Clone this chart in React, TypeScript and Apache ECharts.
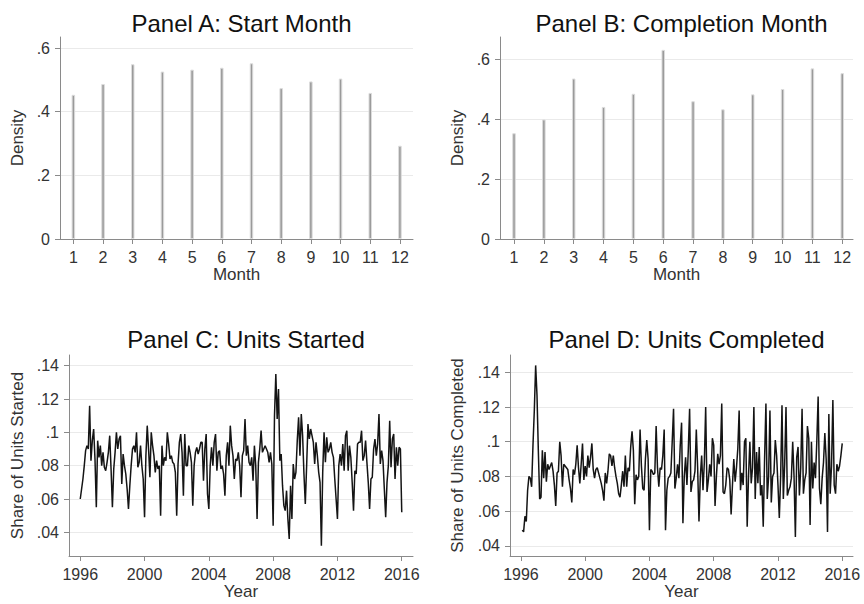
import React, { useEffect, useRef } from "react";
import * as echarts from "echarts";

// ---------- data ----------
const months = [1, 2, 3, 4, 5, 6, 7, 8, 9, 10, 11, 12];
const startDensity = [0.453, 0.487, 0.549, 0.526, 0.532, 0.538, 0.552, 0.474, 0.495, 0.504, 0.459, 0.293];
const completionDensity = [0.354, 0.4, 0.537, 0.442, 0.486, 0.633, 0.461, 0.434, 0.484, 0.502, 0.571, 0.555];

const densityTicks = [0, 0.2, 0.4, 0.6];
const shareTicks = [0.04, 0.06, 0.08, 0.1, 0.12, 0.14];
const yearTicks = [1996, 2000, 2004, 2008, 2012, 2016];
const firstYear = 1996;

// monthly share of units started, Jan 1996 .. Jan 2016
const startedShare = [
  0.060, 0.066, 0.072, 0.080, 0.089, 0.092, 0.090, 0.116, 0.083, 0.095, 0.102, 0.084,
  0.055, 0.095, 0.085, 0.092, 0.080, 0.088, 0.079, 0.077, 0.082, 0.088, 0.098, 0.078,
  0.055, 0.078, 0.088, 0.100, 0.090, 0.096, 0.098, 0.069, 0.087, 0.080, 0.075, 0.066,
  0.054, 0.068, 0.080, 0.090, 0.092, 0.088, 0.100, 0.079, 0.082, 0.092, 0.080, 0.072,
  0.049, 0.086, 0.104, 0.090, 0.073, 0.100, 0.092, 0.086, 0.076, 0.083, 0.078, 0.080,
  0.050, 0.092, 0.080, 0.085, 0.083, 0.100, 0.093, 0.084, 0.086, 0.082, 0.081, 0.076,
  0.050, 0.081, 0.094, 0.099, 0.088, 0.062, 0.099, 0.080, 0.080, 0.092, 0.088, 0.082,
  0.056, 0.080, 0.088, 0.091, 0.087, 0.090, 0.094, 0.094, 0.071, 0.090, 0.099, 0.063,
  0.054, 0.080, 0.091, 0.080, 0.094, 0.099, 0.077, 0.088, 0.089, 0.078, 0.080, 0.075,
  0.062, 0.086, 0.094, 0.080, 0.104, 0.092, 0.086, 0.072, 0.084, 0.083, 0.088, 0.080,
  0.061, 0.086, 0.089, 0.108, 0.086, 0.092, 0.082, 0.080, 0.085, 0.071, 0.092, 0.080,
  0.048, 0.082, 0.090, 0.101, 0.088, 0.090, 0.092, 0.090, 0.088, 0.082, 0.088, 0.081,
  0.044, 0.110, 0.135, 0.108, 0.126, 0.083, 0.087, 0.068, 0.056, 0.053, 0.065, 0.048,
  0.036, 0.068, 0.048, 0.081, 0.072, 0.076, 0.095, 0.109, 0.086, 0.111, 0.098, 0.075,
  0.057, 0.080, 0.105, 0.096, 0.102, 0.098, 0.094, 0.081, 0.094, 0.086, 0.076, 0.070,
  0.032, 0.076, 0.100, 0.082, 0.097, 0.088, 0.090, 0.094, 0.088, 0.085, 0.072, 0.060,
  0.048, 0.080, 0.087, 0.080, 0.093, 0.077, 0.098, 0.101, 0.077, 0.092, 0.085, 0.070,
  0.053, 0.077, 0.075, 0.093, 0.094, 0.094, 0.101, 0.083, 0.086, 0.095, 0.082, 0.070,
  0.054, 0.072, 0.073, 0.090, 0.096, 0.086, 0.093, 0.111, 0.081, 0.089, 0.083, 0.066,
  0.049, 0.070, 0.080, 0.107, 0.079, 0.096, 0.099, 0.072, 0.091, 0.080, 0.091, 0.090,
  0.052,
];

// monthly share of units completed, Jan 1996 .. Jan 2016 (first month missing)
const completedShare = [
  null, 0.049, 0.048, 0.057, 0.054, 0.072, 0.080, 0.079, 0.074, 0.098, 0.118, 0.144,
  0.127, 0.095, 0.067, 0.068, 0.095, 0.079, 0.094, 0.077, 0.087, 0.084, 0.086, 0.088,
  0.083, 0.075, 0.063, 0.082, 0.083, 0.100, 0.092, 0.074, 0.087, 0.086, 0.085, 0.084,
  0.078, 0.073, 0.065, 0.084, 0.081, 0.087, 0.098, 0.085, 0.076, 0.087, 0.099, 0.078,
  0.086, 0.080, 0.092, 0.085, 0.091, 0.099, 0.084, 0.079, 0.084, 0.085, 0.082, 0.079,
  0.076, 0.072, 0.066, 0.082, 0.076, 0.083, 0.093, 0.092, 0.086, 0.092, 0.085, 0.080,
  0.076, 0.070, 0.068, 0.075, 0.083, 0.074, 0.092, 0.074, 0.085, 0.083, 0.097, 0.106,
  0.095, 0.064, 0.081, 0.078, 0.080, 0.107, 0.086, 0.073, 0.072, 0.090, 0.101, 0.090,
  0.049, 0.084, 0.083, 0.081, 0.082, 0.109, 0.085, 0.074, 0.085, 0.084, 0.092, 0.107,
  0.049, 0.072, 0.079, 0.080, 0.082, 0.100, 0.119, 0.073, 0.079, 0.087, 0.079, 0.098,
  0.111, 0.053, 0.080, 0.091, 0.075, 0.095, 0.119, 0.071, 0.077, 0.078, 0.083, 0.107,
  0.085, 0.054, 0.080, 0.092, 0.072, 0.088, 0.120, 0.071, 0.078, 0.087, 0.080, 0.102,
  0.098, 0.063, 0.080, 0.093, 0.087, 0.092, 0.122, 0.071, 0.070, 0.075, 0.085, 0.084,
  0.078, 0.058, 0.075, 0.090, 0.077, 0.085, 0.096, 0.118, 0.072, 0.082, 0.075, 0.100,
  0.102, 0.051, 0.080, 0.100, 0.076, 0.085, 0.120, 0.067, 0.094, 0.076, 0.097, 0.069,
  0.075, 0.051, 0.090, 0.122, 0.067, 0.080, 0.118, 0.065, 0.080, 0.082, 0.101, 0.092,
  0.075, 0.056, 0.080, 0.121, 0.067, 0.087, 0.120, 0.069, 0.072, 0.074, 0.079, 0.100,
  0.080, 0.045, 0.091, 0.097, 0.069, 0.085, 0.119, 0.070, 0.078, 0.082, 0.109, 0.102,
  0.052, 0.100, 0.073, 0.088, 0.079, 0.100, 0.126, 0.073, 0.064, 0.079, 0.088, 0.105,
  0.090, 0.048, 0.116, 0.070, 0.086, 0.124, 0.075, 0.070, 0.087, 0.083, 0.086, 0.092,
  0.099,
];

// ---------- styling ----------
const FONT = "'Liberation Sans', Arial, Helvetica, sans-serif";
const AXIS_COLOR = "#8a8a8a";
const TEXT_COLOR = "#333333";
const GRID_COLOR = "#eaeaea";

function fmt(v: number): string {
  if (Math.abs(v) < 1e-9) return "0";
  const s = String(parseFloat(v.toFixed(3)));
  return s.replace(/^0\./, ".");
}

type Panel = {
  title: string;
  grid: { left: number; top: number; width: number; height: number };
  xMin: number;
  xMax: number;
  xTicks: number[];
  xName: string;
  yMin: number;
  yMax: number;
  yTicks: number[];
  yName: string;
  yNameGap: number;
  kind: "bar" | "line";
  data: (number | null)[][];
};

function monthlyPoints(values: (number | null)[]): number[][] {
  const out: number[][] = [];
  values.forEach((v, i) => {
    if (v !== null) out.push([firstYear + i / 12, v]);
  });
  return out;
}

const panels: Panel[] = [
  {
    title: "Panel A: Start Month",
    grid: { left: 60, top: 37, width: 353, height: 202 },
    xMin: 0.55, xMax: 12.44, xTicks: months, xName: "Month",
    yMin: 0, yMax: 0.6346, yTicks: densityTicks, yName: "Density", yNameGap: 34,
    kind: "bar",
    data: months.map((m, i) => [m, startDensity[i]]),
  },
  {
    title: "Panel B: Completion Month",
    grid: { left: 500, top: 37, width: 353, height: 202 },
    xMin: 0.53, xMax: 12.36, xTicks: months, xName: "Month",
    yMin: 0, yMax: 0.676, yTicks: densityTicks, yName: "Density", yNameGap: 34,
    kind: "bar",
    data: months.map((m, i) => [m, completionDensity[i]]),
  },
  {
    title: "Panel C: Units Started",
    grid: { left: 69, top: 355, width: 344, height: 201 },
    xMin: 1995.3, xMax: 2016.7, xTicks: yearTicks, xName: "Year",
    yMin: 0.0258, yMax: 0.1464, yTicks: shareTicks, yName: "Share of Units Started", yNameGap: 43,
    kind: "line",
    data: monthlyPoints(startedShare),
  },
  {
    title: "Panel D: Units Completed",
    grid: { left: 510, top: 355, width: 343, height: 201 },
    xMin: 1995.32, xMax: 2016.67, xTicks: yearTicks, xName: "Year",
    yMin: 0.0341, yMax: 0.15, yTicks: shareTicks, yName: "Share of Units Completed", yNameGap: 44,
    kind: "line",
    data: monthlyPoints(completedShare),
  },
];

function buildOption() {
  const titleTops = [6, 6, 322, 322];
  return {
    animation: false,
    backgroundColor: "#ffffff",
    textStyle: { fontFamily: FONT },
    title: panels.map((p, i) => ({
      text: p.title,
      left: p.grid.left + p.grid.width / 2,
      top: titleTops[i],
      textAlign: "center",
      textStyle: { fontSize: 24, fontWeight: "normal", color: "#111111", fontFamily: FONT },
    })),
    grid: panels.map((p) => ({ ...p.grid, containLabel: false })),
    xAxis: panels.map((p, i) => ({
      type: "value",
      gridIndex: i,
      min: p.xMin,
      max: p.xMax,
      axisLine: { show: true, onZero: false, lineStyle: { color: AXIS_COLOR, width: 1 } },
      axisTick: { show: true, length: 5, lineStyle: { color: AXIS_COLOR }, customValues: p.xTicks },
      axisLabel: {
        customValues: p.xTicks,
        margin: 10,
        fontSize: 16,
        color: TEXT_COLOR,
        fontFamily: FONT,
        formatter: (v: number) => String(v),
      },
      splitLine: { show: false },
      name: p.xName,
      nameLocation: "middle",
      nameGap: 27,
      nameTextStyle: { fontSize: 17, color: TEXT_COLOR, fontFamily: FONT },
    })),
    yAxis: panels.map((p, i) => ({
      type: "value",
      gridIndex: i,
      min: p.yMin,
      max: p.yMax,
      axisLine: { show: true, onZero: false, lineStyle: { color: AXIS_COLOR, width: 1 } },
      axisTick: { show: true, length: 5, lineStyle: { color: AXIS_COLOR }, customValues: p.yTicks },
      axisLabel: {
        customValues: p.yTicks,
        margin: 10,
        fontSize: 16,
        color: TEXT_COLOR,
        fontFamily: FONT,
        formatter: (v: number) => fmt(v),
      },
      splitLine: { show: true, lineStyle: { color: GRID_COLOR, width: 1 } },
      name: p.yName,
      nameLocation: "middle",
      nameRotate: 90,
      nameGap: p.yNameGap,
      nameTextStyle: { fontSize: 17, color: TEXT_COLOR, fontFamily: FONT },
    })),
    series: panels.map((p, i) =>
      p.kind === "bar"
        ? {
            type: "bar",
            xAxisIndex: i,
            yAxisIndex: i,
            data: p.data,
            barWidth: 3.5,
            itemStyle: { color: "#9a9a9a", borderColor: "#dcdcdc", borderWidth: 1 },
          }
        : {
            type: "line",
            xAxisIndex: i,
            yAxisIndex: i,
            data: p.data,
            showSymbol: false,
            symbol: "none",
            lineStyle: { color: "#141414", width: 1.5 },
          }
    ),
  };
}

export default function App() {
  const ref = useRef<HTMLDivElement | null>(null);
  useEffect(() => {
    if (!ref.current) return;
    const chart = echarts.init(ref.current, null, { renderer: "svg" });
    chart.setOption(buildOption() as any);
    return () => chart.dispose();
  }, []);
  return (
    <div
      ref={ref}
      style={{ position: "fixed", left: 0, top: 0, width: 864, height: 604, background: "#fff" }}
    />
  );
}
